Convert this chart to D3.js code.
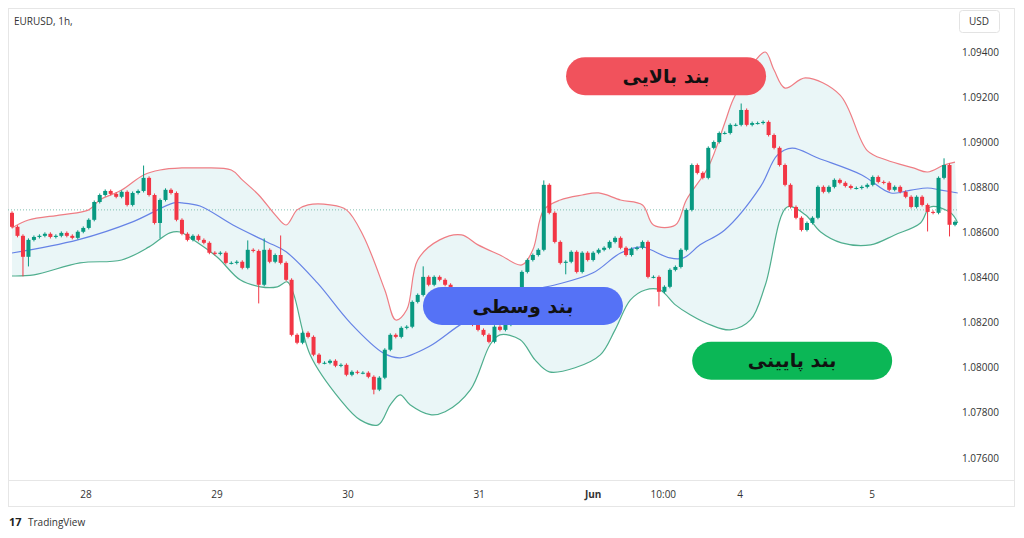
<!DOCTYPE html>
<html>
<head>
<meta charset="utf-8">
<script src="https://cdn.jsdelivr.net/npm/d3@7"></script>
<style>
  body { margin: 0; background: #fff; }
  svg { display: block; font-family: "Open Sans", "Noto Sans", sans-serif; }
</style>
</head>
<body>
<svg id="chart" width="1024" height="538"></svg>
<script>
// EURUSD 1h closes (open = previous close)
const closes = [
  1.08625, 1.08585, 1.08492, 1.08567, 1.08580, 1.08585, 1.08594, 1.08580, 1.08585, 1.08598,
  1.08585, 1.08576, 1.08603, 1.08620, 1.08656, 1.08735, 1.08766, 1.08784, 1.08771, 1.08758,
  1.08780, 1.08722, 1.08775, 1.08784, 1.08842, 1.08766, 1.08642, 1.08744, 1.08789, 1.08775,
  1.08656, 1.08594, 1.08567, 1.08585, 1.08567, 1.08554, 1.08510, 1.08505, 1.08510, 1.08465,
  1.08465, 1.08470, 1.08443, 1.08523, 1.08518, 1.08368, 1.08523, 1.08470, 1.08500, 1.08465,
  1.08390, 1.08146, 1.08111, 1.08155, 1.08137, 1.08058, 1.08022, 1.08022, 1.08031, 1.08009,
  1.08013, 1.07969, 1.07982, 1.07978, 1.07978, 1.07960, 1.07903, 1.07956, 1.08080, 1.08146,
  1.08137, 1.08177, 1.08182, 1.08292, 1.08323, 1.08403, 1.08368, 1.08403, 1.08390, 1.08368,
  1.08337, 1.08301, 1.08266, 1.08222, 1.08191, 1.08168, 1.08146, 1.08115, 1.08182, 1.08168,
  1.08191, 1.08222, 1.08301, 1.08425, 1.08478, 1.08500, 1.08523, 1.08811, 1.08687, 1.08558,
  1.08465, 1.08470, 1.08514, 1.08425, 1.08510, 1.08478, 1.08510, 1.08523, 1.08532, 1.08558,
  1.08576, 1.08532, 1.08500, 1.08527, 1.08532, 1.08558, 1.08403, 1.08403, 1.08337, 1.08359,
  1.08434, 1.08447, 1.08523, 1.08700, 1.08899, 1.08864, 1.08842, 1.08975, 1.09001, 1.09041,
  1.09041, 1.09077, 1.09077, 1.09143, 1.09077, 1.09085, 1.09085, 1.09090, 1.09032, 1.08975,
  1.08899, 1.08811, 1.08713, 1.08665, 1.08611, 1.08642, 1.08665, 1.08802, 1.08780, 1.08802,
  1.08833, 1.08820, 1.08806, 1.08797, 1.08797, 1.08802, 1.08811, 1.08846, 1.08824, 1.08820,
  1.08789, 1.08802, 1.08780, 1.08758, 1.08713, 1.08758, 1.08722, 1.08691, 1.08687, 1.08842,
  1.08899, 1.08634, 1.08647
];
const firstOpen = 1.08687;

// long wicks that stick out of the bodies: candle index -> price
const highs = {0: 1.08687, 24: 1.08890, 43: 1.08558, 46: 1.08567, 49: 1.08580, 75: 1.08443,
  97: 1.08824, 133: 1.09165, 170: 1.08922};
const lows = {2: 1.08412, 3: 1.08456, 27: 1.08580, 45: 1.08292, 66: 1.07889, 101: 1.08421,
  118: 1.08279, 167: 1.08611, 171: 1.08589};

// Bollinger bands at candle positions: [index, price]
const upperBand = [
  [0, 1.08620], [3, 1.08655], [9, 1.08678], [14, 1.08700], [16, 1.08744], [20, 1.08788],
  [24, 1.08855], [27, 1.08877], [31, 1.08886], [34, 1.08886], [40, 1.08877], [42, 1.08833],
  [45, 1.08766], [48, 1.08678], [50, 1.08633], [52, 1.08700], [54, 1.08722], [58, 1.08722],
  [61, 1.08700], [64, 1.08589], [68, 1.08345], [70, 1.08212], [72, 1.08257], [74, 1.08478],
  [78, 1.08567], [82, 1.08589], [85, 1.08545], [89, 1.08500], [93, 1.08456], [95, 1.08523],
  [97, 1.08700], [100, 1.08744], [104, 1.08766], [107, 1.08775], [111, 1.08744], [115, 1.08722],
  [117, 1.08633], [121, 1.08633], [123, 1.08744], [127, 1.08890], [130, 1.09085], [131.5, 1.09187],
  [135, 1.09342], [137.4, 1.09400], [139, 1.09320], [141, 1.09240], [144.7, 1.09285],
  [151, 1.09210], [156, 1.08963], [159.5, 1.08921], [164.4, 1.08886], [167, 1.08868],
  [170, 1.08899], [172, 1.08912]
];
const middleBand = [
  [0, 1.08509], [12, 1.08567], [22, 1.08647], [29.5, 1.08731], [31, 1.08731], [34.3, 1.08717],
  [40.3, 1.08633], [46.5, 1.08558], [50, 1.08514], [55.7, 1.08376], [61.7, 1.08199],
  [67.7, 1.08066], [70.8, 1.08044], [76, 1.08093], [82.3, 1.08199], [89, 1.08279],
  [95, 1.08345], [99, 1.08367], [106, 1.08421], [111, 1.08509], [115, 1.08536], [116.5, 1.08523],
  [120, 1.08487], [122.5, 1.08487], [125.5, 1.08545], [130, 1.08611], [136.5, 1.08802],
  [139.6, 1.08943], [142.3, 1.08974], [147, 1.08930], [155, 1.08855], [160.3, 1.08775],
  [164, 1.08788], [167, 1.08797], [169.4, 1.08788], [172.5, 1.08775]
];
const lowerBand = [
  [0, 1.08407], [4, 1.08412], [12.4, 1.08465], [20, 1.08478], [25, 1.08536], [28.8, 1.08598],
  [30.7, 1.08602], [32.5, 1.08576], [37.4, 1.08491], [41.6, 1.08390], [45.3, 1.08359],
  [48.4, 1.08359], [50.2, 1.08381], [51.3, 1.08332], [54.4, 1.08057], [59.9, 1.07858],
  [63.5, 1.07769], [66.8, 1.07747], [69, 1.07836], [70.8, 1.07880], [72.6, 1.07836],
  [76.3, 1.07792], [79, 1.07805], [83.6, 1.07902], [87.2, 1.08102], [89, 1.08146],
  [92.7, 1.08124], [95.4, 1.08035], [98, 1.07982], [102.7, 1.08000], [107.3, 1.08057],
  [110, 1.08168], [112.8, 1.08301], [115.5, 1.08345], [118.2, 1.08345], [121, 1.08279],
  [123.7, 1.08235], [127.4, 1.08190], [131, 1.08168], [134.7, 1.08212], [137.4, 1.08367],
  [141.4, 1.08713], [144.7, 1.08678], [147.5, 1.08602], [151.3, 1.08554], [156.6, 1.08545],
  [161, 1.08589], [165.7, 1.08642], [167.5, 1.08713], [171.2, 1.08687], [172.5, 1.08642]
];

const priceTicks = [1.094, 1.092, 1.090, 1.088, 1.086, 1.084, 1.082, 1.080, 1.078, 1.076];
const timeTicks = [[13.5, "28"], [37.4, "29"], [61.3, "30"], [85.2, "31"], [106, "Jun"],
  [118.8, "10:00"], [132.8, "4"], [156.9, "5"]];
const refPrice = 1.08700;

const callouts = [
  {text: "بند بالایی", idx: 119.3, price: 1.09293, fill: "#f1525c"},
  {text: "بند وسطی", idx: 93.2, price: 1.08274, fill: "#5572f6"},
  {text: "بند پایینی", idx: 142.3, price: 1.08031, fill: "#0bb756"}
];

const svg = d3.select("#chart");
const x = d3.scaleLinear().domain([0, closes.length - 1]).range([12, 955]);
const y = d3.scaleLinear().domain([1.076, 1.094]).range([458, 52]);

// frame
svg.append("rect").attr("x", 8.5).attr("y", 8.5).attr("width", 1006).attr("height", 498)
  .attr("fill", "none").attr("stroke", "#e6e6e6");
svg.append("line").attr("x1", 8).attr("x2", 1015).attr("y1", 480.5).attr("y2", 480.5)
  .attr("stroke", "#e6e6e6");

const curve = d3.curveCatmullRom.alpha(0.5);
const bandLine = d3.line().x(d => x(d[0])).y(d => y(d[1])).curve(curve);

// band fill
svg.append("path")
  .attr("d", bandLine(upperBand) + "L" + bandLine(lowerBand.slice().reverse()).slice(1) + "Z")
  .attr("fill", "#e6f5f6").attr("opacity", 0.85);

// reference dotted line
svg.append("line").attr("x1", 8).attr("x2", 958)
  .attr("y1", y(refPrice)).attr("y2", y(refPrice))
  .attr("stroke", "#7fbfb0").attr("stroke-dasharray", "1,2");

svg.append("path").attr("d", bandLine(upperBand)).attr("fill", "none").attr("stroke", "#ef7d84").attr("stroke-width", 1.2);
svg.append("path").attr("d", bandLine(lowerBand)).attr("fill", "none").attr("stroke", "#4fae8e").attr("stroke-width", 1.2);
svg.append("path").attr("d", bandLine(middleBand)).attr("fill", "none").attr("stroke", "#6683e6").attr("stroke-width", 1.2);

// candles
const candles = closes.map((c, i) => {
  const o = i === 0 ? firstOpen : closes[i - 1];
  return {i, o, c,
    h: Math.max(o, c, highs[i] ?? 0),
    l: Math.min(o, c, lows[i] ?? 9)};
});
const cg = svg.append("g");
candles.forEach(d => {
  const col = d.c >= d.o ? "#089981" : "#f23645";
  const cx = x(d.i);
  cg.append("line").attr("x1", cx).attr("x2", cx)
    .attr("y1", y(d.h) - 1.5).attr("y2", y(d.l) + 1.5)
    .attr("stroke", col).attr("stroke-width", 1);
  const top = y(Math.max(d.o, d.c)), bot = y(Math.min(d.o, d.c));
  cg.append("rect").attr("x", cx - 2).attr("width", 4)
    .attr("y", top).attr("height", Math.max(1, bot - top)).attr("fill", col);
});

// right axis
const ya = svg.append("g").attr("transform", "translate(962,0)");
ya.selectAll("text").data(priceTicks).join("text")
  .attr("x", 0).attr("y", d => y(d)).attr("dy", "0.35em")
  .attr("font-size", 10).attr("fill", "#333").text(d => d3.format(".5f")(d));

// bottom axis
svg.append("g").selectAll("text").data(timeTicks).join("text")
  .attr("x", d => x(d[0])).attr("y", 498).attr("text-anchor", "middle")
  .attr("font-size", 10).attr("fill", "#333")
  .attr("font-weight", d => d[1] === "Jun" ? "bold" : "normal")
  .text(d => d[1]);

// header
svg.append("text").attr("x", 14).attr("y", 25).attr("font-size", 10).attr("fill", "#333").text("EURUSD, 1h,");
svg.append("rect").attr("x", 959.5).attr("y", 10.5).attr("width", 40).attr("height", 22).attr("rx", 3)
  .attr("fill", "#fff").attr("stroke", "#e3e3e3");
svg.append("text").attr("x", 979).attr("y", 25).attr("text-anchor", "middle").attr("font-size", 10)
  .attr("fill", "#333").text("USD");

// logo
svg.append("text").attr("x", 9).attr("y", 526).attr("font-size", 11).attr("font-weight", "bold")
  .attr("fill", "#222").text("17");
svg.append("text").attr("x", 28).attr("y", 526).attr("font-size", 10).attr("fill", "#333").text("TradingView");

// callouts
callouts.forEach(d => {
  const g = svg.append("g").attr("transform", `translate(${x(d.idx)},${y(d.price)})`);
  g.append("rect").attr("x", -100).attr("y", -19).attr("width", 200).attr("height", 38)
    .attr("rx", 19).attr("fill", d.fill);
  g.append("text").attr("text-anchor", "middle").attr("dy", "0.35em")
    .attr("font-family", "'DejaVu Sans', 'Noto Sans', sans-serif")
    .attr("font-size", 19).attr("font-weight", "bold").attr("fill", "#111")
    .attr("direction", "rtl").text(d.text);
});
</script>
</body>
</html>
